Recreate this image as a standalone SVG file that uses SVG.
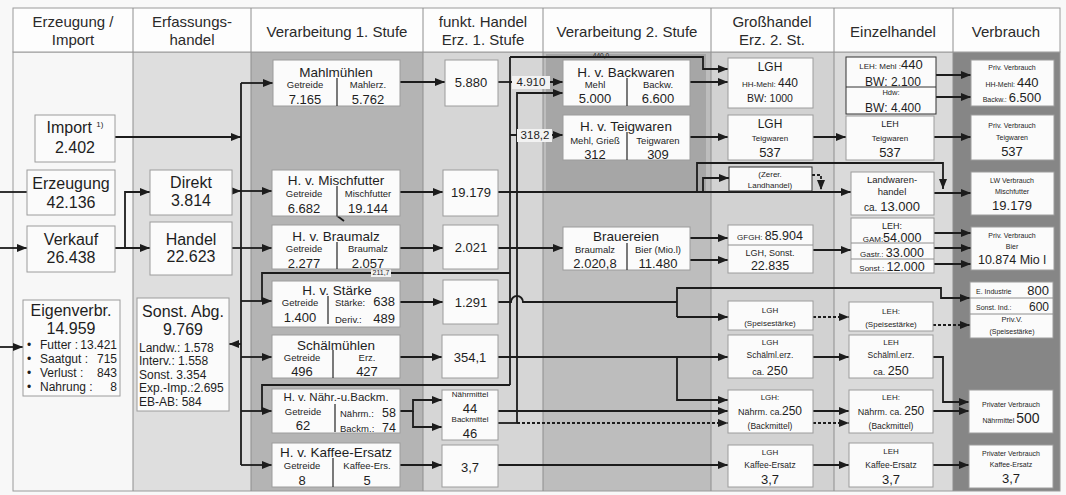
<svg xmlns="http://www.w3.org/2000/svg" width="1066" height="495" viewBox="0 0 1066 495">
<defs>
<marker id="ah" markerUnits="userSpaceOnUse" markerWidth="10" markerHeight="8" viewBox="0 0 10 8" refX="10" refY="4" orient="auto"><path d="M0,0 L10,4 L0,8 z" fill="#1c1c1c"/></marker>
</defs>
<style>
text{font-family:'Liberation Sans',Arial,sans-serif;fill:#1e1e1e;}
.m{text-anchor:middle;}
.e{text-anchor:end;}
.h{font-size:15px;text-anchor:middle;fill:#2a2a2a;}
.b{font-size:16px;}
.t{font-size:13.5px;}
.s{font-size:9.5px;}
.n{font-size:13px;}
.x{font-size:8px;}
.box{fill:#fbfbfb;stroke:#9c9c9c;stroke-width:1;}
.dk{stroke:#333;}
.dv{stroke:#333;stroke-width:1.3;}
.c{fill:none;stroke:#1c1c1c;stroke-width:1.8;}
.a{marker-end:url(#ah);}
.d{stroke-dasharray:3 2;}
.col{stroke:#8e8e8e;stroke-width:1;}
</style>
<rect x="0" y="0" width="1066" height="495" fill="#f8f8f8"/>
<g id="background">
<rect x="13" y="52" width="120" height="439" fill="#f7f7f7"/>
<rect x="133" y="52" width="118" height="439" fill="#dedede"/>
<rect x="251" y="52" width="172" height="439" fill="#b4b4b4"/>
<rect x="423" y="52" width="120" height="439" fill="#d6d6d6"/>
<rect x="543" y="52" width="168" height="439" fill="#bdbdbd"/>
<rect x="546" y="54" width="160" height="138" fill="#a6a6a6"/>
<rect x="711" y="52" width="123" height="439" fill="#d2d2d2"/>
<rect x="834" y="52" width="119" height="439" fill="#dadada"/>
<rect x="953" y="52" width="107" height="439" fill="#868686"/>
<rect x="13" y="52" width="1047" height="439" fill="none" stroke="#9a9a9a"/>
<path class="col" d="M133,52V491M251,52V491M423,52V491M543,52V491M711,52V491M834,52V491M953,52V491"/>
</g>
<g id="header">
<rect x="13" y="8" width="1047" height="44" fill="#fdfdfd" stroke="#9a9a9a"/>
<path class="col" d="M133,8V52M251,8V52M423,8V52M543,8V52M711,8V52M834,8V52M953,8V52"/>
<text class="h" x="73" y="27">Erzeugung /</text><text class="h" x="73" y="45">Import</text>
<text class="h" x="192" y="27">Erfassungs-</text><text class="h" x="192" y="45">handel</text>
<text class="h" x="337" y="37">Verarbeitung 1. Stufe</text>
<text class="h" x="483" y="27">funkt. Handel</text><text class="h" x="483" y="45">Erz. 1. Stufe</text>
<text class="h" x="627" y="37">Verarbeitung 2. Stufe</text>
<text class="h" x="772" y="27">Großhandel</text><text class="h" x="772" y="45">Erz. 2. St.</text>
<text class="h" x="893" y="37">Einzelhandel</text>
<text class="h" x="1006" y="37">Verbrauch</text>
</g>
<g id="connectors">
<path class="c" d="M0,192H27"/>
<path class="c a" d="M0,248H27"/>
<path class="c a" d="M0,347H23"/>
<path class="c a" d="M115,137H241"/>
<path class="c" d="M241,83V465"/>
<path class="c a" d="M241,83H273"/>
<path class="c a" d="M115,248H150"/>
<path class="c a" d="M125,248V192H150"/>
<path class="c a" d="M232,191H241"/>
<path class="c a" d="M241,191H272"/>
<path class="c" d="M232,248H241"/>
<path class="c a" d="M241,248H272"/>
<path class="c a" d="M241,344H229"/>
<path class="c a" d="M241,301H272"/>
<path class="c a" d="M241,357H272"/>
<path class="c a" d="M241,411H272"/>
<path class="c a" d="M241,465H272"/>
<path class="c a" d="M400,82H445"/>
<path class="c a" d="M400,192H443"/>
<path class="c a" d="M400,248H443"/>
<path class="c a" d="M400,302H443"/>
<path class="c a" d="M400,357H442"/>
<path class="c a" d="M400,411H413V400H442"/>
<path class="c a" d="M413,411V427H442"/>
<path class="c a" d="M400,465H442"/>
<path class="c" d="M336,215L344,221" stroke-width="1.4"/>
<path class="c" d="M498,82H510"/>
<path class="c" d="M510,57V385"/>
<path class="c a" d="M510,82H563"/>
<path class="c a" d="M510,135H563"/>
<path class="c a" d="M510,57H703V69H728"/>
<path class="c" d="M510,273H262V301"/>
<path class="c" d="M510,385H262V411"/>
<path class="c a" d="M517,423V93H563"/>
<path class="c" d="M498,423H517"/>
<path class="c a d" d="M517,423H728"/>
<path class="c a" d="M498,411H728"/>
<path class="c a" d="M498,192H851"/>
<path class="c a" d="M697,192V163H943V189"/>
<path class="c a" d="M703,192V178H729"/>
<path class="c a d" d="M812,175H821V190" stroke-width="1.3"/>
<path class="c a" d="M498,248H563"/>
<path class="c a" d="M690,82H728"/>
<path class="c a" d="M690,137H728"/>
<path class="c a" d="M690,238H728"/>
<path class="c a" d="M690,260H728"/>
<path class="c" d="M498,302H511A6,6 0 0 1 523,302H677"/>
<path class="c a" d="M677,317V288H941V298H970"/>
<path class="c a" d="M677,317H728"/>
<path class="c a d" d="M813,317H849"/>
<path class="c a d" d="M933,325H970"/>
<path class="c a" d="M813,250H851"/>
<path class="c a" d="M934,233H971"/>
<path class="c a" d="M934,248H971"/>
<path class="c a" d="M934,264H971"/>
<path class="c a" d="M934,193H971"/>
<path class="c a" d="M813,137H846"/>
<path class="c a" d="M936,75H971"/>
<path class="c a" d="M936,97H971"/>
<path class="c a" d="M934,137H971"/>
<path class="c a" d="M498,357H728"/>
<path class="c a" d="M677,357V400H728" stroke-width="1.3"/>
<path class="c a" d="M813,357H849"/>
<path class="c a" d="M933,357H943V402H969"/>
<path class="c a" d="M813,411H849"/>
<path class="c a d" d="M813,423H849"/>
<path class="c a" d="M933,411H969"/>
<path class="c a" d="M498,465H728"/>
<path class="c a" d="M813,465H849"/>
<path class="c a" d="M933,465H969"/>
<rect x="512" y="76" width="38" height="13" fill="#f2f2f2"/>
<text x="531" y="86" class="m" font-size="11.5">4.910</text>
<rect x="517" y="129" width="35" height="13" fill="#f2f2f2"/>
<text x="535" y="139" class="m" font-size="11.5">318,2</text>
<rect x="371" y="268" width="20" height="9" fill="#f2f2f2"/>
<text x="381" y="275" class="m" font-size="7">211,7</text>
<text x="601" y="58" class="m" font-size="6.5">440,0</text>
</g>
<g id="n-import"><rect class="box" x="35" y="115" width="80" height="47"/>
<text x="75" y="133" class="m b">Import <tspan font-size="8" dy="-6">1)</tspan></text><text x="75" y="153" class="m b">2.402</text></g>
<g id="n-erzeugung"><rect class="box" x="27" y="170" width="88" height="45"/>
<text x="71" y="189" class="m b">Erzeugung</text><text x="71" y="208" class="m b">42.136</text></g>
<g id="n-verkauf"><rect class="box" x="27" y="226" width="88" height="46"/>
<text x="71" y="245" class="m b">Verkauf</text><text x="71" y="263" class="m b">26.438</text></g>
<g id="n-eigenverbr"><rect class="box" x="23" y="300" width="97" height="96"/>
<text x="71" y="316" class="m b">Eigenverbr.</text><text x="71" y="334" class="m b">14.959</text>
<g font-size="12"><text x="27" y="349">•</text><text x="40" y="349">Futter :</text><text x="117" y="349" class="e">13.421</text>
<text x="27" y="363">•</text><text x="40" y="363">Saatgut :</text><text x="117" y="363" class="e">715</text>
<text x="27" y="377">•</text><text x="40" y="377">Verlust :</text><text x="117" y="377" class="e">843</text>
<text x="27" y="391">•</text><text x="40" y="391">Nahrung :</text><text x="117" y="391" class="e">8</text></g></g>
<g id="n-direkt"><rect class="box" x="150" y="170" width="82" height="45"/>
<text x="191" y="188" class="m b">Direkt</text><text x="191" y="206" class="m b">3.814</text></g>
<g id="n-handel"><rect class="box" x="150" y="222" width="82" height="53"/>
<text x="191" y="245" class="m b">Handel</text><text x="191" y="262" class="m b">22.623</text></g>
<g id="n-sonstabg"><rect class="box" x="137" y="298" width="92" height="113"/>
<text x="183" y="317" class="m b">Sonst. Abg.</text><text x="183" y="335" class="m b">9.769</text>
<g font-size="12"><text x="139" y="352">Landw.: 1.578</text><text x="139" y="365">Interv.: 1.558</text><text x="139" y="379">Sonst. 3.354</text><text x="139" y="392">Exp.-Imp.:2.695</text><text x="139" y="406">EB-AB: 584</text></g></g>
<g id="n-mahl"><rect class="box" x="273" y="60" width="127" height="46"/><path class="dv" d="M337,78V106"/>
<text x="336" y="77" class="m t">Mahlmühlen</text><text x="305" y="88" class="m s">Getreide</text><text x="305" y="104" class="m n">7.165</text><text x="368" y="88" class="m s">Mahlerz.</text><text x="368" y="104" class="m n">5.762</text></g>
<g id="n-misch"><rect class="box" x="272" y="170" width="128" height="46"/><path class="dv" d="M337,186V216"/>
<text x="336" y="185" class="m t">H. v. Mischfutter</text><text x="304" y="197" class="m s">Getreide</text><text x="304" y="213" class="m n">6.682</text><text x="368" y="197" class="m s">Mischfutter</text><text x="368" y="213" class="m n">19.144</text></g>
<g id="n-braumalz"><rect class="box" x="272" y="225" width="128" height="44"/><path class="dv" d="M337,242V269"/>
<text x="336" y="241" class="m t">H. v. Braumalz</text><text x="304" y="252" class="m s">Getreide</text><text x="304" y="268" class="m n">2.277</text><text x="368" y="252" class="m s">Braumalz</text><text x="368" y="268" class="m n">2.057</text></g>
<g id="n-staerke"><rect class="box" x="272" y="281" width="128" height="46"/><path class="dv" d="M328,296V324"/>
<text x="337" y="295" class="m t">H. v. Stärke</text><text x="300" y="306" class="m s">Getreide</text><text x="300" y="322" class="m n">1.400</text>
<text x="335" y="306" class="s">Stärke:</text><text x="395" y="306" class="e n">638</text><text x="335" y="323" class="s">Deriv.:</text><text x="395" y="323" class="e n">489</text></g>
<g id="n-schael"><rect class="box" x="272" y="335" width="128" height="43"/><path class="dv" d="M333,350V378"/>
<text x="336" y="350" class="m t">Schälmühlen</text><text x="302" y="361" class="m s">Getreide</text><text x="302" y="376" class="m n">496</text><text x="367" y="361" class="m s">Erz.</text><text x="367" y="376" class="m n">427</text></g>
<g id="n-naehr"><rect class="box" x="272" y="389" width="128" height="44"/><path class="dv" d="M335,404V432"/>
<text x="336" y="401" class="m" font-size="11.5">H. v. Nähr.-u.Backm.</text><text x="303" y="415" class="m s">Getreide</text><text x="303" y="430" class="m n">62</text>
<text x="340" y="417" class="s">Nährm.:</text><text x="396" y="417" class="e" font-size="12.5">58</text><text x="340" y="432" class="s">Backm.:</text><text x="396" y="432" class="e" font-size="12.5">74</text></g>
<g id="n-kaffee"><rect class="box" x="272" y="443" width="128" height="44"/><path class="dv" d="M333,458V487"/>
<text x="336" y="457" class="m t">H. v. Kaffee-Ersatz</text><text x="302" y="469" class="m s">Getreide</text><text x="302" y="485" class="m n">8</text><text x="367" y="469" class="m s">Kaffee-Ers.</text><text x="367" y="485" class="m n">5</text></g>
<g id="n-5880"><rect class="box" x="445" y="60" width="53" height="46"/><text x="471" y="87" class="m n">5.880</text></g>
<g id="n-19179"><rect class="box" x="443" y="170" width="55" height="46"/><text x="471" y="197" class="m n">19.179</text></g>
<g id="n-2021"><rect class="box" x="443" y="225" width="55" height="44"/><text x="471" y="252" class="m n">2.021</text></g>
<g id="n-1291"><rect class="box" x="443" y="280" width="55" height="44"/><text x="471" y="307" class="m n">1.291</text></g>
<g id="n-3541"><rect class="box" x="442" y="335" width="56" height="43"/><text x="470" y="362" class="m n">354,1</text></g>
<g id="n-naehrback"><rect class="box" x="442" y="390" width="56" height="50"/>
<text x="470" y="397" class="m x">Nährmittel</text><text x="470" y="413" class="m n">44</text><text x="470" y="422" class="m x">Backmittel</text><text x="470" y="438" class="m n">46</text></g>
<g id="n-37a"><rect class="box" x="442" y="445" width="56" height="42"/><text x="470" y="472" class="m n">3,7</text></g>
<g id="n-backwaren"><rect class="box" x="563" y="60" width="127" height="46"/><path class="dv" d="M627,78V106"/>
<text x="626" y="77" class="m t">H. v. Backwaren</text><text x="595" y="88" class="m s">Mehl</text><text x="595" y="103" class="m n">5.000</text><text x="658" y="88" class="m s">Backw.</text><text x="658" y="103" class="m n">6.600</text></g>
<g id="n-teigwaren"><rect class="box" x="563" y="115" width="127" height="45"/><path class="dv" d="M627,132V160"/>
<text x="626" y="131" class="m t">H. v. Teigwaren</text><text x="595" y="144" class="m s">Mehl, Grieß</text><text x="595" y="159" class="m n">312</text><text x="658" y="144" class="m s">Teigwaren</text><text x="658" y="159" class="m n">309</text></g>
<g id="n-brauereien"><rect class="box" x="563" y="227" width="127" height="43"/><path class="dv" d="M627,243V270"/>
<text x="626" y="241" class="m t">Brauereien</text><text x="595" y="253" class="m s">Braumalz</text><text x="595" y="268" class="m n">2.020,8</text><text x="658" y="253" class="m s">Bier (Mio.l)</text><text x="658" y="268" class="m n">11.480</text></g>
<g id="n-lgh-mehl"><rect class="box" x="728" y="58" width="85" height="50"/>
<text x="770" y="71" class="m" font-size="12">LGH</text><text x="770" y="87" class="m"><tspan font-size="8">HH-Mehl: </tspan><tspan font-size="12">440</tspan></text><text x="770" y="102" class="m" font-size="10.5">BW: 1000</text></g>
<g id="n-lgh-teig"><rect class="box" x="728" y="115" width="85" height="45"/>
<text x="770" y="128" class="m" font-size="12">LGH</text><text x="770" y="141" class="m x">Teigwaren</text><text x="770" y="157" class="m n">537</text></g>
<g id="n-zerer"><rect class="box dk" x="729" y="167" width="83" height="24"/>
<text x="770" y="177" class="m x">(Zerer.</text><text x="770" y="188" class="m x">Landhandel)</text></g>
<g id="n-gfgh"><rect class="box" x="728" y="225" width="85" height="48"/><path class="col" d="M728,245H813"/>
<text x="770" y="240" class="m"><tspan font-size="8">GFGH: </tspan><tspan font-size="12.5">85.904</tspan></text><text x="770" y="256" class="m" font-size="9">LGH, Sonst.</text><text x="770" y="270" class="m" font-size="12.5">22.835</text></g>
<g id="n-lgh-speise"><rect class="box" x="728" y="301" width="85" height="29"/>
<text x="770" y="313" class="m x">LGH</text><text x="770" y="326" class="m x">(Speisestärke)</text></g>
<g id="n-lgh-schael"><rect class="box" x="728" y="335" width="85" height="43"/>
<text x="770" y="345" class="m x">LGH</text><text x="770" y="358" class="m" font-size="8.5">Schälml.erz.</text><text x="770" y="375" class="m"><tspan font-size="9">ca. </tspan><tspan font-size="12.5">250</tspan></text></g>
<g id="n-lgh-naehr"><rect class="box" x="728" y="390" width="85" height="43"/>
<text x="770" y="400" class="m x">LGH:</text><text x="770" y="415" class="m"><tspan font-size="9">Nährm. ca.</tspan><tspan font-size="12">250</tspan></text><text x="770" y="429" class="m" font-size="8.5">(Backmittel)</text></g>
<g id="n-lgh-kaffee"><rect class="box" x="728" y="445" width="85" height="42"/>
<text x="770" y="455" class="m x">LGH</text><text x="770" y="468" class="m" font-size="8.5">Kaffee-Ersatz</text><text x="770" y="484" class="m n">3,7</text></g>
<g id="n-leh-mehl"><rect class="box dk" x="846" y="57" width="90" height="57"/><path d="M846,87H936" stroke="#333" stroke-width="1"/>
<text x="891" y="69" class="m"><tspan font-size="8">LEH: Mehl :</tspan><tspan font-size="13">440</tspan></text><text x="893" y="86" class="m" font-size="12">BW: 2.100</text>
<text x="891" y="95" class="m" font-size="7.5">Hdw:</text><text x="893" y="112" class="m" font-size="12">BW: 4.400</text></g>
<g id="n-leh-teig"><rect class="box" x="846" y="116" width="88" height="44"/>
<text x="890" y="127" class="m" font-size="9">LEH</text><text x="890" y="141" class="m x">Teigwaren</text><text x="890" y="157" class="m n">537</text></g>
<g id="n-landwaren"><rect class="box" x="851" y="172" width="83" height="43"/>
<text x="892" y="183" class="m" font-size="9.5">Landwaren-</text><text x="892" y="195" class="m" font-size="9.5">handel</text><text x="892" y="211" class="m"><tspan font-size="10">ca. </tspan><tspan font-size="13">13.000</tspan></text></g>
<g id="n-leh-gam"><rect class="box" x="851" y="218" width="83" height="55"/><path class="col" d="M851,243H934M851,259H934"/>
<text x="892" y="229" class="m" font-size="9">LEH:</text><text x="892" y="242" class="m"><tspan font-size="8">GAM:</tspan><tspan font-size="12.5">54.000</tspan></text>
<text x="892" y="257" class="m"><tspan font-size="8">Gastr.: </tspan><tspan font-size="12.5">33.000</tspan></text><text x="892" y="271" class="m"><tspan font-size="8">Sonst.: </tspan><tspan font-size="12.5">12.000</tspan></text></g>
<g id="n-leh-speise"><rect class="box" x="849" y="302" width="84" height="29"/>
<text x="891" y="314" class="m x">LEH:</text><text x="891" y="327" class="m x">(Speisestärke)</text></g>
<g id="n-leh-schael"><rect class="box" x="849" y="335" width="84" height="43"/>
<text x="891" y="345" class="m x">LEH</text><text x="891" y="358" class="m" font-size="8.5">Schälml.erz.</text><text x="891" y="375" class="m"><tspan font-size="9">ca. </tspan><tspan font-size="12.5">250</tspan></text></g>
<g id="n-leh-naehr"><rect class="box" x="849" y="390" width="84" height="43"/>
<text x="891" y="400" class="m x">LEH:</text><text x="891" y="415" class="m"><tspan font-size="9">Nährm. ca. </tspan><tspan font-size="12">250</tspan></text><text x="891" y="429" class="m" font-size="8.5">(Backmittel)</text></g>
<g id="n-leh-kaffee"><rect class="box" x="849" y="443" width="84" height="44"/>
<text x="891" y="454" class="m x">LEH</text><text x="891" y="468" class="m" font-size="8.5">Kaffee-Ersatz</text><text x="891" y="484" class="m n">3,7</text></g>
<g id="n-pv-mehl"><rect class="box" x="971" y="60" width="83" height="46"/>
<text x="1012" y="70" class="m" font-size="7">Priv. Verbrauch</text><text x="1012" y="87" class="m"><tspan font-size="7">HH-Mehl:  </tspan><tspan font-size="13">440</tspan></text><text x="1012" y="102" class="m"><tspan font-size="7">Backw.:  </tspan><tspan font-size="13">6.500</tspan></text></g>
<g id="n-pv-teig"><rect class="box" x="971" y="115" width="83" height="45"/>
<text x="1012" y="128" class="m" font-size="7">Priv. Verbrauch</text><text x="1012" y="140" class="m" font-size="7">Teigwaren</text><text x="1012" y="156" class="m n">537</text></g>
<g id="n-lw-verbr"><rect class="box" x="971" y="172" width="83" height="43"/>
<text x="1012" y="183" class="m" font-size="7">LW Verbrauch</text><text x="1012" y="194" class="m" font-size="7">Mischfutter</text><text x="1012" y="210" class="m n">19.179</text></g>
<g id="n-pv-bier"><rect class="box" x="971" y="227" width="83" height="43"/>
<text x="1012" y="238" class="m" font-size="7">Priv. Verbrauch</text><text x="1012" y="249" class="m" font-size="7">Bier</text><text x="1012" y="264" class="m" font-size="12.5">10.874 Mio l</text></g>
<g id="n-industrie"><rect class="box" x="970" y="282" width="83" height="56"/><path class="col" d="M970,298H1053M970,314H1053"/>
<text x="976" y="294" font-size="7">E. Industrie</text><text x="1049" y="295" class="e n">800</text>
<text x="976" y="310" font-size="7">Sonst. Ind.:</text><text x="1049" y="311" class="e" font-size="12">600</text>
<text x="1012" y="322" class="m" font-size="7.5">Priv.V.</text><text x="1012" y="334" class="m" font-size="7">(Speisestärke)</text></g>
<g id="n-pv-naehr"><rect class="box" x="969" y="390" width="84" height="43"/>
<text x="1011" y="407" class="m" font-size="7">Privater Verbrauch</text><text x="1011" y="423" class="m"><tspan font-size="7">Nährmittel  </tspan><tspan font-size="14">500</tspan></text></g>
<g id="n-pv-kaffee"><rect class="box" x="969" y="445" width="84" height="43"/>
<text x="1011" y="456" class="m" font-size="7">Privater Verbrauch</text><text x="1011" y="467" class="m" font-size="7">Kaffee-Ersatz</text><text x="1011" y="483" class="m n">3,7</text></g>
</svg>
